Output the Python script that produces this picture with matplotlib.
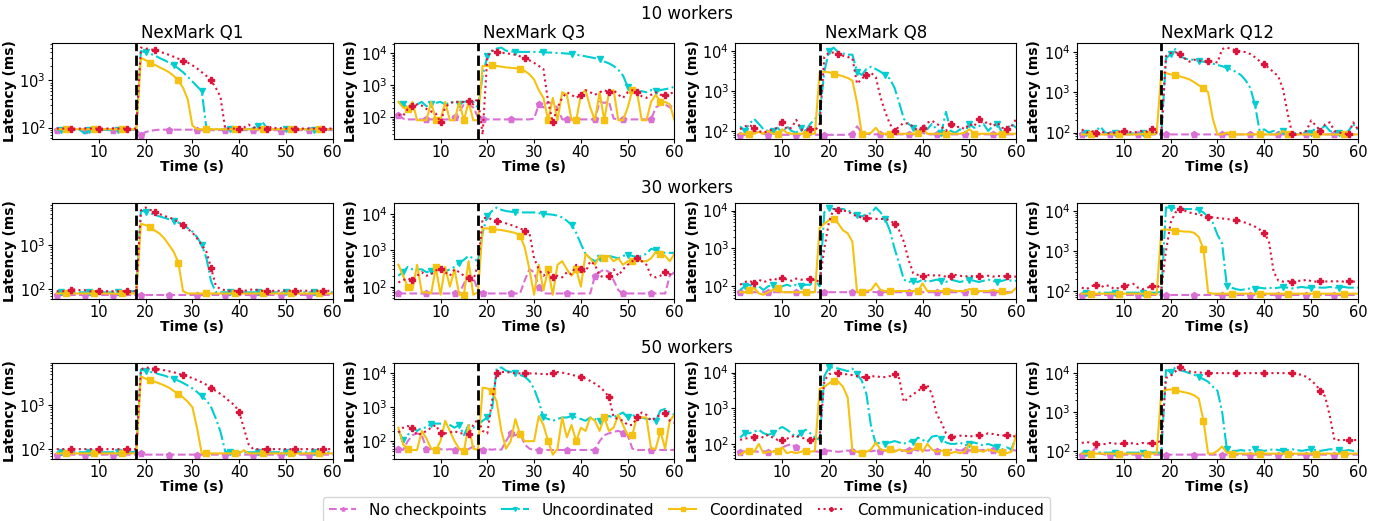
import numpy as np
import matplotlib
matplotlib.use('Agg')
import matplotlib.pyplot as plt

# tempo em segundos (uma amostra por segundo)
t = np.arange(1, 61)
falha = 18  # instante da falha

queries = ['NexMark Q1', 'NexMark Q3', 'NexMark Q8', 'NexMark Q12']
workers = ['10 workers', '30 workers', '50 workers']
series_names = ['No checkpoints', 'Uncoordinated', 'Coordinated', 'Communication-induced']

# ---------------- 10 workers ----------------
q1_10_nc = [90, 90, 90, 90, 90, 90, 88, 90, 90, 90,
            90, 90, 90, 88, 80, 90, 90, 90, 70, 80,
            85, 88, 90, 90, 90, 90, 90, 90, 90, 90,
            88, 88, 88, 88, 88, 88, 88, 88, 88, 88,
            88, 88, 88, 88, 88, 88, 88, 88, 85, 88,
            88, 88, 88, 88, 88, 88, 88, 88, 88, 88]
q1_10_unc = [90, 88, 90, 90, 90, 88, 75, 90, 90, 90,
             90, 88, 90, 90, 90, 90, 90, 90, 4200, 4000,
             3700, 3400, 3000, 2700, 2400, 2100, 1800, 1500, 1200, 950,
             750, 600, 95, 92, 92, 92, 92, 92, 92, 92,
             92, 92, 95, 110, 130, 95, 92, 92, 92, 92,
             92, 92, 92, 92, 92, 90, 92, 92, 92, 92]
q1_10_co = [92, 92, 92, 92, 92, 92, 92, 92, 92, 92,
            92, 92, 92, 92, 92, 92, 92, 92, 3000, 2700,
            2400, 2150, 1900, 1700, 1500, 1250, 1000, 700, 400, 110,
            92, 92, 92, 92, 92, 92, 92, 92, 92, 92,
            92, 92, 92, 92, 92, 92, 92, 92, 92, 92,
            92, 92, 92, 92, 90, 92, 92, 92, 92, 92]
q1_10_ci = [95, 95, 95, 95, 95, 95, 95, 95, 95, 95,
            95, 95, 95, 95, 95, 95, 95, 95, 5000, 4800,
            4600, 4400, 4100, 3800, 3500, 3200, 2900, 2600, 2400, 2100,
            1800, 1500, 1250, 1000, 700, 450, 95, 95, 95, 95,
            100, 115, 100, 100, 95, 95, 105, 95, 97, 95,
            95, 95, 95, 95, 95, 95, 95, 95, 95, 95]

q3_10_nc = [120, 90, 85, 85, 85, 85, 85, 85, 85, 85,
            85, 85, 100, 150, 250, 250, 200, 100, 85, 85,
            85, 85, 85, 85, 85, 85, 85, 85, 85, 90,
            250, 200, 300, 250, 200, 85, 85, 85, 85, 85,
            85, 85, 85, 300, 280, 300, 90, 85, 85, 85,
            85, 85, 85, 85, 85, 200, 250, 250, 200, 250]
q3_10_unc = [300, 250, 200, 280, 250, 300, 220, 250, 280, 300,
             250, 280, 300, 260, 300, 320, 300, 200, 2000, 8000,
             12000, 14000, 15000, 12000, 11500, 11000, 11000, 11000, 11000, 11000,
             11000, 10800, 10500, 10500, 10200, 10000, 9800, 9500, 9000, 8500,
             8000, 7500, 7000, 6500, 5500, 4800, 4000, 3000, 2000, 900,
             700, 600, 650, 600, 700, 650, 700, 750, 800, 900]
q3_10_co = [300, 200, 180, 300, 80, 80, 80, 300, 80, 80,
            300, 80, 80, 300, 80, 300, 80, 80, 4000, 4000,
            4200, 4000, 3800, 3600, 3500, 3400, 3200, 2800, 2200, 1500,
            700, 400, 80, 400, 80, 600, 500, 80, 80, 500,
            700, 200, 80, 600, 80, 600, 700, 80, 80, 200,
            700, 600, 80, 80, 300, 500, 300, 300, 250, 80]
q3_10_ci = [120, 110, 180, 220, 250, 230, 180, 150, 130, 70,
            200, 280, 300, 300, 300, 320, 250, 400, 28, 8000,
            12000, 11000, 10500, 10000, 9500, 9000, 8000, 7000, 6000, 5000,
            4000, 3200, 300, 70, 200, 400, 600, 500, 400, 500,
            700, 600, 500, 600, 700, 600, 700, 500, 400, 600,
            700, 600, 450, 400, 500, 600, 500, 500, 550, 600]

q8_10_nc = [80, 80, 85, 100, 90, 85, 80, 90, 80, 80,
            80, 80, 80, 80, 80, 80, 80, 80, 80, 80,
            80, 80, 80, 80, 85, 130, 90, 85, 82, 82,
            82, 82, 82, 82, 82, 82, 82, 82, 85, 90,
            82, 82, 82, 82, 82, 82, 82, 82, 82, 82,
            82, 82, 82, 82, 82, 82, 82, 82, 82, 82]
q8_10_unc = [130, 100, 150, 200, 150, 110, 100, 100, 120, 90,
             130, 100, 90, 120, 100, 150, 200, 250, 3000, 10000,
             12000, 9000, 8500, 8000, 8000, 3000, 2500, 3500, 4000, 3500,
             3000, 2500, 2000, 1200, 500, 200, 150, 120, 90, 130,
             110, 150, 110, 90, 300, 100, 90, 110, 90, 150,
             120, 130, 150, 100, 130, 150, 90, 110, 150, 120]
q8_10_co = [85, 85, 85, 85, 95, 85, 100, 85, 85, 110,
            90, 85, 85, 85, 85, 85, 85, 3000, 3000, 2900,
            2700, 2500, 2300, 2100, 1800, 500, 85, 85, 90, 120,
            85, 85, 85, 85, 85, 85, 85, 85, 90, 120,
            85, 85, 85, 85, 85, 85, 85, 85, 90, 110,
            85, 85, 85, 85, 85, 85, 85, 85, 85, 85]
q8_10_ci = [110, 130, 140, 120, 100, 90, 100, 110, 120, 170,
            110, 120, 190, 110, 100, 110, 100, 150, 7000, 9000,
            9000, 8500, 7500, 7000, 6500, 1500, 2000, 2500, 2800, 2200,
            700, 300, 150, 100, 130, 160, 150, 130, 100, 120,
            160, 180, 150, 130, 100, 150, 120, 130, 110, 150,
            130, 200, 150, 170, 130, 160, 120, 110, 130, 200]

q12_10_nc = [90, 90, 90, 90, 90, 90, 90, 90, 90, 90,
             90, 90, 90, 90, 90, 90, 90, 90, 90, 90,
             90, 90, 90, 90, 90, 90, 90, 90, 90, 90,
             90, 90, 90, 90, 90, 90, 90, 90, 90, 90,
             90, 90, 90, 90, 90, 90, 90, 88, 90, 90,
             90, 90, 90, 90, 90, 90, 90, 90, 90, 90]
q12_10_unc = [95, 95, 100, 110, 140, 100, 95, 95, 95, 95,
              95, 95, 95, 95, 95, 95, 95, 95, 7000, 9000,
              12000, 8000, 7000, 6500, 6500, 6000, 5800, 5500, 5200, 4800,
              4500, 4000, 3700, 3200, 2700, 2000, 1300, 500, 110, 120,
              100, 110, 100, 110, 100, 95, 100, 90, 110, 100,
              130, 120, 150, 110, 100, 100, 95, 110, 160, 120]
q12_10_co = [90, 90, 90, 90, 90, 90, 92, 90, 90, 90,
             90, 90, 90, 92, 90, 90, 95, 3200, 3000, 2800,
             2700, 2500, 2300, 2100, 1800, 1500, 1300, 1000, 220, 90,
             90, 100, 90, 90, 90, 90, 90, 90, 90, 90,
             90, 90, 90, 110, 90, 90, 90, 90, 90, 90,
             90, 90, 90, 90, 90, 90, 90, 90, 90, 90]
q12_10_ci = [120, 100, 110, 100, 105, 100, 95, 100, 105, 110,
             105, 100, 105, 110, 105, 120, 100, 95, 8000, 9500,
             10000, 9000, 7000, 5800, 6500, 6200, 6000, 6000, 6000, 5500,
             12000, 13000, 12000, 11000, 10500, 10000, 9000, 7500, 6000, 5000,
             4000, 3200, 2500, 1200, 300, 90, 90, 100, 110, 200,
             150, 110, 160, 180, 110, 100, 95, 90, 180, 120]

# ---------------- 30 workers ----------------
q1_30_nc = [75, 75, 75, 75, 75, 75, 75, 75, 75, 75,
            75, 75, 75, 75, 75, 75, 75, 75, 75, 75,
            75, 75, 75, 75, 75, 75, 75, 75, 75, 75,
            75, 75, 75, 75, 75, 75, 75, 75, 75, 75,
            75, 75, 75, 75, 75, 75, 75, 75, 75, 75,
            75, 75, 75, 75, 75, 75, 75, 75, 75, 75]
q1_30_unc = [85, 85, 85, 85, 85, 85, 85, 85, 85, 85,
             85, 85, 85, 85, 88, 90, 90, 90, 6000, 5600,
             5200, 4800, 4400, 4100, 3800, 3500, 3200, 2800, 2400, 2000,
             1500, 1000, 500, 150, 85, 85, 85, 85, 85, 85,
             85, 85, 85, 85, 85, 85, 85, 85, 85, 85,
             85, 85, 85, 85, 85, 85, 85, 85, 85, 85]
q1_30_co = [80, 80, 80, 80, 80, 80, 80, 80, 80, 80,
            80, 80, 80, 78, 80, 80, 80, 80, 3000, 2800,
            2500, 2100, 1800, 1400, 1000, 700, 400, 90, 80, 80,
            80, 80, 80, 80, 80, 80, 80, 80, 80, 80,
            80, 80, 80, 80, 80, 80, 80, 80, 80, 80,
            80, 80, 80, 80, 80, 80, 80, 80, 80, 80]
q1_30_ci = [90, 90, 90, 95, 100, 95, 95, 90, 90, 90,
            90, 90, 90, 90, 90, 90, 90, 90, 6000, 7000,
            6200, 5500, 5000, 4500, 4200, 3800, 3300, 2800, 2300, 1900,
            1400, 1000, 700, 300, 120, 100, 95, 92, 92, 92,
            92, 95, 100, 95, 92, 92, 92, 92, 92, 92,
            92, 92, 92, 92, 92, 92, 92, 92, 92, 92]

q3_30_nc = [65, 65, 65, 65, 65, 65, 65, 65, 65, 65,
            65, 65, 65, 65, 120, 200, 180, 80, 65, 65,
            65, 65, 65, 65, 65, 65, 65, 150, 300, 250,
            100, 65, 65, 65, 65, 65, 65, 65, 65, 65,
            65, 65, 200, 250, 300, 250, 150, 80, 65, 65,
            65, 65, 65, 65, 65, 65, 65, 65, 200, 250]
q3_30_unc = [200, 250, 350, 300, 300, 300, 250, 270, 300, 280,
             260, 300, 350, 450, 550, 700, 600, 500, 3000, 9000,
             12000, 15000, 13000, 12000, 11500, 11000, 11000, 11000, 11000, 11000,
             10500, 10000, 9800, 9500, 9000, 8000, 6500, 5000, 3000, 1500,
             800, 600, 500, 600, 650, 700, 650, 600, 700, 750,
             700, 650, 700, 800, 1100, 1000, 900, 850, 850, 850]
q3_30_co = [400, 200, 100, 80, 400, 70, 70, 65, 350, 60,
            350, 100, 300, 60, 60, 500, 60, 70, 4000, 4000,
            3800, 3700, 3600, 3400, 3200, 3000, 2500, 1200, 300, 60,
            400, 80, 300, 60, 400, 500, 300, 200, 300, 100,
            800, 600, 400, 700, 600, 700, 500, 600, 400, 500,
            500, 600, 500, 500, 600, 900, 800, 700, 500, 800]
q3_30_ci = [130, 150, 170, 150, 200, 250, 200, 220, 280, 300,
            250, 200, 300, 250, 200, 170, 150, 400, 7500, 8000,
            7000, 6500, 6000, 5500, 5000, 4500, 4000, 3500, 3000, 600,
            300, 200, 250, 180, 200, 180, 250, 220, 400, 300,
            250, 500, 400, 200, 180, 200, 300, 200, 300, 400,
            500, 600, 500, 400, 200, 180, 200, 250, 220, 200]

q8_30_nc = [70, 70, 72, 70, 70, 70, 72, 70, 70, 70,
            70, 70, 70, 70, 70, 70, 70, 70, 70, 70,
            70, 70, 70, 70, 70, 70, 70, 70, 72, 70,
            70, 70, 70, 70, 70, 70, 70, 70, 70, 70,
            70, 70, 70, 70, 70, 70, 70, 70, 72, 70,
            70, 70, 70, 70, 70, 70, 70, 70, 70, 70]
q8_30_unc = [80, 100, 110, 90, 100, 80, 100, 110, 100, 100,
             110, 100, 110, 100, 110, 110, 150, 100, 9000, 12000,
             11000, 11000, 11000, 10000, 9000, 7500, 7000, 8000, 8500, 12000,
             9000, 6000, 3000, 1000, 400, 150, 130, 140, 130, 150,
             130, 140, 150, 140, 130, 150, 140, 130, 140, 150,
             140, 130, 140, 150, 140, 130, 140, 150, 140, 140]
q8_30_co = [70, 70, 80, 90, 65, 60, 70, 80, 90, 70,
            70, 70, 70, 70, 70, 70, 70, 3500, 4500, 5500,
            6000, 4500, 3000, 2500, 1500, 70, 70, 75, 80, 120,
            80, 75, 75, 75, 75, 75, 75, 75, 75, 120,
            75, 75, 75, 75, 75, 80, 75, 75, 75, 85,
            75, 75, 75, 75, 80, 75, 75, 65, 70, 90]
q8_30_ci = [110, 130, 140, 120, 150, 130, 140, 160, 150, 170,
            150, 140, 160, 150, 150, 160, 150, 130, 1000, 5000,
            11000, 10500, 10000, 9500, 8000, 7000, 6500, 6200, 6200, 6000,
            6000, 6000, 5500, 4500, 3000, 1500, 500, 220, 200, 190,
            200, 190, 200, 190, 180, 190, 200, 190, 180, 190,
            180, 190, 180, 190, 180, 190, 180, 190, 180, 180]

q12_30_nc = [80, 80, 80, 80, 80, 80, 80, 80, 80, 80,
             80, 80, 80, 80, 80, 80, 80, 80, 80, 80,
             80, 80, 80, 80, 80, 80, 80, 80, 80, 80,
             80, 80, 80, 80, 80, 80, 80, 80, 80, 80,
             80, 80, 80, 80, 80, 80, 80, 80, 80, 80,
             80, 80, 80, 80, 80, 80, 80, 80, 80, 80]
q12_30_unc = [90, 90, 90, 90, 90, 90, 90, 90, 90, 90,
              90, 90, 90, 90, 90, 90, 90, 95, 12000, 12000,
              11500, 11500, 11000, 11000, 11000, 10500, 9000, 7000, 5000, 2500,
              1500, 130, 120, 110, 105, 110, 115, 110, 120, 115,
              120, 115, 120, 125, 120, 115, 120, 125, 120, 120,
              125, 120, 120, 125, 120, 120, 125, 120, 120, 120]
q12_30_co = [85, 85, 85, 85, 85, 85, 85, 85, 85, 85,
             85, 85, 85, 85, 85, 85, 80, 3300, 3400, 3300,
             3200, 3100, 3000, 3000, 2800, 2200, 1100, 90, 85, 85,
             85, 85, 85, 85, 85, 85, 85, 85, 85, 85,
             85, 85, 85, 85, 85, 85, 85, 85, 85, 85,
             85, 85, 85, 85, 85, 85, 85, 85, 85, 85]
q12_30_ci = [120, 110, 130, 140, 120, 140, 130, 110, 120, 130,
             140, 150, 120, 110, 120, 130, 140, 110, 1000, 5000,
             9000, 11000, 10000, 9000, 8500, 8000, 7500, 7000, 6800, 6600,
             6400, 6200, 6000, 5800, 5400, 5000, 4500, 4000, 3400, 2800,
             1700, 300, 180, 170, 175, 170, 180, 175, 190, 175,
             170, 175, 170, 175, 170, 175, 170, 175, 170, 170]

# ---------------- 50 workers ----------------
q1_50_nc = [75, 75, 75, 75, 75, 75, 75, 75, 75, 75,
            75, 75, 75, 75, 75, 75, 75, 75, 80, 75,
            75, 75, 75, 75, 75, 75, 75, 75, 75, 75,
            75, 75, 75, 75, 75, 75, 75, 75, 75, 75,
            75, 75, 75, 75, 75, 75, 75, 75, 75, 75,
            75, 75, 75, 75, 75, 75, 75, 75, 75, 75]
q1_50_unc = [85, 85, 85, 85, 85, 85, 85, 85, 85, 85,
             85, 85, 85, 85, 85, 85, 85, 90, 6500, 6000,
             5700, 5400, 5000, 4700, 4300, 4000, 3600, 3200, 2800, 2400,
             2000, 1600, 1300, 900, 500, 250, 90, 85, 85, 85,
             85, 85, 85, 85, 85, 85, 85, 85, 85, 85,
             85, 85, 85, 85, 85, 85, 85, 85, 85, 85]
q1_50_co = [80, 80, 80, 80, 80, 80, 80, 80, 80, 80,
            80, 80, 80, 80, 80, 80, 80, 80, 4500, 4000,
            3700, 3400, 3100, 2800, 2500, 2100, 1800, 1500, 1200, 900,
            300, 80, 80, 80, 80, 80, 80, 80, 80, 80,
            95, 80, 80, 80, 80, 80, 80, 80, 80, 80,
            80, 80, 80, 80, 80, 80, 80, 80, 80, 80]
q1_50_ci = [100, 100, 100, 100, 100, 100, 100, 100, 100, 100,
            100, 100, 100, 100, 100, 100, 100, 100, 6500, 7200,
            7000, 6700, 6500, 6200, 5900, 5600, 5200, 4800, 4500, 4100,
            3700, 3300, 2900, 2500, 2100, 1800, 1500, 1200, 1000, 700,
            300, 130, 100, 100, 100, 100, 100, 100, 100, 100,
            100, 100, 100, 100, 100, 100, 100, 100, 100, 100]

q3_50_nc = [60, 55, 100, 150, 170, 150, 60, 58, 56, 58,
            56, 58, 56, 58, 56, 58, 70, 60, 56, 58,
            56, 58, 56, 100, 170, 150, 170, 80, 60, 55,
            55, 55, 55, 55, 55, 55, 55, 55, 55, 55,
            55, 55, 55, 100, 150, 170, 190, 200, 180, 150,
            60, 55, 55, 55, 55, 55, 55, 55, 55, 55]
q3_50_unc = [200, 110, 150, 250, 200, 250, 250, 330, 330, 330,
             340, 300, 250, 300, 150, 300, 250, 300, 400, 500,
             800, 14000, 15000, 12000, 11000, 10000, 9000, 8000, 6000, 3500,
             1500, 500, 450, 400, 450, 500, 500, 550, 500, 450,
             400, 500, 450, 400, 500, 550, 500, 600, 700, 500,
             600, 500, 500, 450, 450, 400, 800, 900, 700, 600]
q3_50_co = [250, 80, 60, 55, 55, 200, 120, 60, 55, 100,
            400, 200, 100, 60, 50, 300, 60, 55, 3800, 3600,
            3000, 1500, 200, 60, 100, 450, 160, 100, 100, 100,
            550, 300, 100, 40, 60, 500, 130, 300, 100, 250,
            200, 500, 400, 200, 500, 200, 250, 600, 300, 150,
            150, 550, 500, 500, 60, 60, 200, 60, 400, 600]
q3_50_ci = [180, 250, 280, 250, 150, 170, 200, 250, 300, 170,
            170, 180, 200, 170, 170, 160, 300, 450, 200, 170,
            1500, 10000, 11000, 11000, 10500, 10000, 10000, 10000, 10000, 10000,
            9800, 9500, 9500, 10000, 11000, 10500, 10000, 9000, 8500, 8000,
            7000, 6000, 5000, 4000, 3000, 2000, 500, 450, 400, 300,
            300, 500, 700, 600, 400, 500, 600, 700, 400, 350]

q8_50_nc = [60, 62, 60, 62, 60, 62, 60, 62, 65, 80,
            90, 100, 80, 65, 62, 60, 62, 60, 62, 65,
            62, 60, 62, 65, 62, 60, 62, 65, 62, 65,
            62, 65, 62, 65, 62, 65, 68, 70, 65, 68,
            65, 68, 65, 68, 65, 68, 70, 65, 68, 65,
            68, 65, 68, 65, 68, 65, 68, 65, 68, 65]
q8_50_unc = [150, 200, 200, 220, 250, 200, 180, 200, 250, 300,
             250, 200, 150, 200, 250, 200, 150, 130, 8000, 14000,
             14000, 13000, 12000, 11000, 13000, 9000, 6000, 2500, 300, 100,
             110, 100, 110, 120, 110, 100, 120, 110, 150, 130,
             110, 160, 170, 140, 110, 100, 100, 110, 90, 100,
             110, 100, 90, 100, 90, 80, 70, 80, 70, 160]
q8_50_co = [50, 60, 65, 60, 100, 55, 60, 60, 65, 80,
            55, 60, 55, 60, 65, 60, 65, 3500, 4000, 5000,
            6000, 5500, 4000, 2000, 65, 60, 55, 60, 70, 110,
            70, 65, 70, 60, 70, 65, 60, 70, 90, 60,
            100, 70, 60, 65, 60, 55, 60, 55, 60, 100,
            70, 65, 60, 70, 65, 60, 60, 55, 60, 180]
q8_50_ci = [130, 140, 150, 160, 170, 150, 180, 150, 130, 130,
            140, 160, 170, 150, 140, 130, 140, 150, 6000, 9000,
            10000, 9500, 9000, 9000, 8500, 8000, 7500, 7500, 7800, 8000,
            7500, 7500, 8000, 9000, 7000, 1500, 2000, 2500, 3000, 4000,
            4500, 2500, 700, 400, 200, 160, 160, 170, 170, 160,
            170, 180, 170, 200, 190, 180, 170, 180, 170, 160]

q12_50_nc = [80, 80, 90, 120, 85, 80, 80, 80, 80, 80,
             80, 80, 80, 80, 80, 80, 80, 80, 80, 80,
             80, 80, 80, 80, 80, 80, 80, 80, 80, 80,
             80, 80, 80, 80, 80, 80, 80, 80, 80, 80,
             80, 80, 80, 80, 80, 80, 80, 80, 80, 80,
             80, 80, 80, 80, 80, 80, 80, 80, 80, 80]
q12_50_unc = [90, 90, 90, 90, 90, 90, 90, 90, 90, 90,
              90, 90, 90, 90, 90, 90, 90, 90, 12000, 11000,
              14000, 12000, 11000, 10000, 9000, 8000, 7000, 6000, 4500, 3500,
              1000, 110, 100, 100, 105, 100, 105, 110, 105, 100,
              105, 110, 105, 100, 105, 110, 105, 100, 105, 110,
              105, 100, 105, 110, 110, 105, 100, 105, 100, 100]
q12_50_co = [85, 85, 85, 85, 85, 85, 85, 85, 85, 85,
             85, 85, 85, 85, 85, 85, 85, 3300, 3700, 3800,
             3600, 3400, 3200, 3000, 2700, 2200, 600, 85, 85, 100,
             130, 90, 85, 85, 85, 85, 85, 85, 85, 85,
             85, 85, 85, 85, 85, 85, 85, 85, 85, 85,
             85, 85, 85, 85, 85, 85, 85, 85, 85, 85]
q12_50_ci = [160, 170, 160, 150, 150, 150, 160, 155, 150, 155,
             160, 155, 150, 160, 155, 160, 165, 180, 7500, 8500,
             11000, 14000, 12000, 11000, 10500, 10500, 10000, 10000, 10000, 10000,
             10000, 10000, 10000, 10000, 10000, 10000, 10000, 10000, 10000, 10000,
             10000, 10000, 10000, 10000, 10000, 10000, 9500, 9000, 8000, 6500,
             5000, 3500, 2500, 800, 190, 190, 190, 190, 190, 190]

grid = [
    [(q1_10_nc, q1_10_unc, q1_10_co, q1_10_ci), (q3_10_nc, q3_10_unc, q3_10_co, q3_10_ci),
     (q8_10_nc, q8_10_unc, q8_10_co, q8_10_ci), (q12_10_nc, q12_10_unc, q12_10_co, q12_10_ci)],
    [(q1_30_nc, q1_30_unc, q1_30_co, q1_30_ci), (q3_30_nc, q3_30_unc, q3_30_co, q3_30_ci),
     (q8_30_nc, q8_30_unc, q8_30_co, q8_30_ci), (q12_30_nc, q12_30_unc, q12_30_co, q12_30_ci)],
    [(q1_50_nc, q1_50_unc, q1_50_co, q1_50_ci), (q3_50_nc, q3_50_unc, q3_50_co, q3_50_ci),
     (q8_50_nc, q8_50_unc, q8_50_co, q8_50_ci), (q12_50_nc, q12_50_unc, q12_50_co, q12_50_ci)],
]

cores = ['orchid', 'darkturquoise', '#f5c211', 'crimson']
estilos = ['--', '-.', '-', ':']
marcadores = ['p', 'v', 's', 'P']

fig, axes = plt.subplots(3, 4, figsize=(13.87, 5.21), dpi=100)
plt.subplots_adjust(left=0.0375, right=0.979, top=0.917, bottom=0.119,
                    wspace=0.217, hspace=0.667)

for i in range(3):
    for j in range(4):
        ax = axes[i, j]
        for k in range(4):
            ax.plot(t, grid[i][j][k], color=cores[k], linestyle=estilos[k],
                    marker=marcadores[k], markersize=4.5, markevery=(k, 6),
                    linewidth=1.5, label=series_names[k])
        ax.axvline(falha, color='black', linestyle='--', linewidth=2)
        ax.set_yscale('log')
        ax.set_xlim(0, 60)
        ax.set_xticks([10, 20, 30, 40, 50, 60])
        ax.tick_params(which='major', labelsize=10.5, pad=1.5, length=3)
        ax.tick_params(which='minor', length=1.5)
        ax.set_xlabel('Time (s)', fontsize=10, fontweight='bold', labelpad=0)
        ax.set_ylabel('Latency (ms)', fontsize=10, fontweight='bold', labelpad=2)
        if i == 0:
            ax.set_title(queries[j], fontsize=12, pad=4)

fig.text(0.495, 0.973, workers[0], ha='center', va='center', fontsize=12)
fig.text(0.495, 0.639, workers[1], ha='center', va='center', fontsize=12)
fig.text(0.495, 0.332, workers[2], ha='center', va='center', fontsize=12)

handles, labels = axes[0, 0].get_legend_handles_labels()
fig.legend(handles, labels, loc='lower center', ncol=4, fontsize=11,
           bbox_to_anchor=(0.495, -0.02), frameon=True, columnspacing=1.0,
           handlelength=1.8, markerscale=0.6)

plt.savefig('out.png', dpi=100)
plt.close()
